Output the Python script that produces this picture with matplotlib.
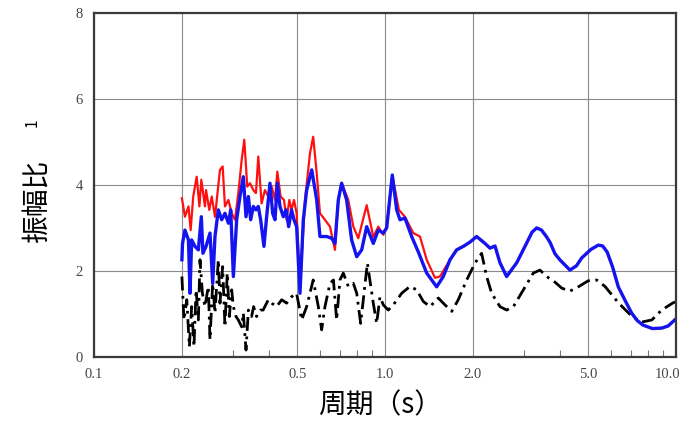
import matplotlib.pyplot as plt
from matplotlib.ticker import FixedLocator, NullFormatter
from matplotlib.transforms import ScaledTranslation

# period (s) / amplitude ratio
blue_T = [0.2005, 0.2015, 0.2054, 0.2112, 0.2138, 0.2166, 0.2224, 0.2284, 0.2338, 0.2368,
          0.2427, 0.2504, 0.2558, 0.2605, 0.2675, 0.2747, 0.2819, 0.2897, 0.2950, 0.3013,
          0.3093, 0.3175, 0.3260, 0.3330, 0.3393, 0.3455, 0.3528, 0.3602, 0.3670, 0.3738,
          0.3838, 0.3920, 0.4025, 0.4112, 0.4188, 0.4266, 0.4356, 0.4473, 0.4568, 0.4667,
          0.4775, 0.4868, 0.4970, 0.5104, 0.5240, 0.5381, 0.5601, 0.5826, 0.5978, 0.6305,
          0.6556, 0.6731, 0.6911, 0.7097, 0.7383, 0.7681, 0.7996, 0.8316, 0.8653, 0.9116,
          0.9484, 0.9866, 1.0135, 1.0596, 1.097, 1.126, 1.171, 1.235, 1.302, 1.391,
          1.505, 1.586, 1.673, 1.763, 1.858, 1.959, 2.065, 2.206, 2.295, 2.388,
          2.484, 2.618, 2.836, 2.95, 3.069, 3.2, 3.322, 3.45, 3.594, 3.7,
          3.838, 4.0, 4.322, 4.55, 4.740, 5.1, 5.408, 5.6, 5.80, 6.05,
          6.335, 6.7, 7.04, 7.35, 7.70, 8.3, 8.93, 9.4, 9.90]
blue_amp = [2.26, 2.64, 2.95, 2.72, 1.48, 2.72, 2.57, 2.49, 3.26, 2.41,
            2.57, 2.88, 1.71, 2.80, 3.42, 3.19, 3.34, 3.11, 3.42, 1.87,
            3.19, 3.73, 4.19, 3.26, 3.73, 3.19, 3.50, 3.42, 3.50, 3.19,
            2.57, 3.26, 4.04, 3.34, 3.19, 4.04, 3.50, 3.26, 3.42, 3.03,
            3.42, 3.19, 3.03, 1.48, 3.19, 3.88, 4.35, 3.65, 2.80, 2.80,
            2.76, 2.64, 3.65, 4.04, 3.65, 2.72, 2.33, 2.49, 3.03, 2.64,
            2.95, 2.88, 3.00, 4.23, 3.42, 3.19, 3.23, 2.80, 2.44, 1.95,
            1.63, 1.87, 2.26, 2.49, 2.57, 2.67, 2.80, 2.64, 2.53, 2.58,
            2.19, 1.87, 2.19, 2.42, 2.65, 2.90, 3.00, 2.95, 2.79, 2.65,
            2.40, 2.25, 2.02, 2.12, 2.30, 2.50, 2.60, 2.58, 2.44, 2.10,
            1.63, 1.30, 1.02, 0.85, 0.74, 0.66, 0.67, 0.72, 0.86]

# red: own values up to ~1.55 s, then hidden under the blue line
red_T_short = [0.2005, 0.2054, 0.2112, 0.2149, 0.2193, 0.2254, 0.2303, 0.2338, 0.2406, 0.2427,
               0.2490, 0.2539, 0.2605, 0.2710, 0.2768, 0.2819, 0.2897, 0.2973, 0.3052, 0.3133,
               0.3218, 0.3285, 0.3363, 0.3436, 0.3528, 0.3602, 0.3670, 0.3767, 0.3868, 0.3973,
               0.4081, 0.4188, 0.4266, 0.4379, 0.4497, 0.4592, 0.4691, 0.4775, 0.4868, 0.4970,
               0.5104, 0.5311, 0.5525, 0.5666, 0.5826, 0.5978, 0.6219, 0.6471, 0.6731, 0.6911,
               0.7097, 0.7480, 0.7785, 0.8097, 0.8653, 0.9116, 0.9484, 0.9866, 1.0135, 1.0596,
               1.116, 1.171, 1.251, 1.319, 1.391, 1.485, 1.545]
red_amp_short = [3.69, 3.26, 3.50, 2.95, 3.73, 4.19, 3.50, 4.12, 3.50, 3.88,
                 3.42, 3.73, 3.26, 4.35, 4.43, 3.50, 3.65, 3.34, 3.19, 3.81,
                 4.58, 5.05, 3.96, 4.04, 3.88, 3.81, 4.66, 3.57, 3.88, 3.73,
                 3.96, 3.65, 4.31, 3.73, 3.65, 3.19, 3.65, 3.42, 3.65, 3.34,
                 1.60, 3.65, 4.74, 5.12, 4.27, 3.34, 3.19, 3.03, 2.49, 3.65,
                 4.04, 3.65, 3.03, 2.76, 3.53, 2.79, 3.03, 2.84, 3.03, 4.23,
                 3.42, 3.26, 2.88, 2.80, 2.26, 1.84, 1.87]

black_T = [0.2005, 0.2038, 0.2084, 0.2127, 0.2166, 0.2206, 0.2243, 0.2284, 0.2314, 0.2358,
           0.2406, 0.2471, 0.2504, 0.2558, 0.2605, 0.2675, 0.2710, 0.2768, 0.2819, 0.2870,
           0.2918, 0.2973, 0.3013, 0.3076, 0.3133, 0.3218, 0.3260, 0.3330, 0.3393, 0.3480,
           0.3537, 0.3619, 0.3738, 0.3813, 0.3973, 0.4081, 0.4241, 0.4418, 0.4592, 0.4775,
           0.4970, 0.5172, 0.5381, 0.5666, 0.5901, 0.6059, 0.6219, 0.6471, 0.6650, 0.6821,
           0.7003, 0.7190, 0.7480, 0.7785, 0.7996, 0.8248, 0.870, 0.9116, 0.9364, 0.9612,
           0.9866, 1.0265, 1.068, 1.141, 1.219, 1.285, 1.354, 1.428, 1.525, 1.608,
           1.696, 1.786, 1.909, 2.038, 2.148, 2.235, 2.326, 2.484, 2.618, 2.762,
           2.989, 3.233, 3.409, 3.594, 3.838, 4.05, 4.322, 4.615, 4.992, 5.335,
           5.702, 6.335, 7.04, 7.61, 8.26, 8.93, 9.78, 10.0]
black_amp = [1.87, 0.86, 1.33, 0.24, 1.17, 0.24, 1.56, 0.86, 2.26, 1.48,
             1.17, 1.64, 0.40, 1.71, 1.02, 2.26, 1.25, 2.10, 0.70, 1.95,
             0.94, 1.56, 1.17, 0.94, 0.86, 0.70, 1.02, 0.16, 1.09, 0.94,
             1.17, 0.94, 1.09, 1.09, 1.33, 1.25, 1.17, 1.33, 1.25, 1.40,
             1.48, 0.86, 1.17, 1.79, 1.17, 0.63, 1.17, 1.71, 1.79, 0.86,
             1.79, 1.95, 1.64, 1.71, 1.48, 0.78, 2.18, 1.25, 0.78, 1.40,
             1.21, 1.09, 1.21, 1.48, 1.64, 1.56, 1.29, 1.17, 1.37, 1.21,
             1.06, 1.33, 1.79, 2.18, 2.41, 1.87, 1.48, 1.17, 1.09, 1.17,
             1.56, 1.95, 2.02, 1.87, 1.74, 1.60, 1.53, 1.63, 1.77, 1.79,
             1.64, 1.26, 0.95, 0.81, 0.86, 1.09, 1.26, 1.28]

x_ticks = [0.1, 0.2, 0.5, 1.0, 2.0, 5.0, 10.0]
x_ticklabels = ['0.1', '0.2', '0.5', '1.0', '2.0', '5.0', '10.0']
y_ticks = [0, 2, 4, 6, 8]

plt.rcParams['font.family'] = ['Noto Sans CJK SC', 'DejaVu Sans']

# red lies under blue beyond ~1.6 s
cut = blue_T.index(1.673)
red_T = red_T_short + blue_T[cut:]
red_amp = red_amp_short + blue_amp[cut:]

fig = plt.figure(figsize=(6.86, 4.29), dpi=100)
ax = fig.add_axes([0.137, 0.168, 0.8484, 0.8019])

ax.plot(black_T, black_amp, color='black', linewidth=2.0,
        linestyle=(0, (5, 2, 1, 2)))
ax.plot(red_T, red_amp, color='#ff1010', linewidth=1.6)
ax.plot(blue_T, blue_amp, color='#1414f0', linewidth=2.4)

ax.set_xscale('log')
ax.set_xlim(0.1, 10.0)
ax.set_ylim(0, 8)
ax.xaxis.set_major_locator(FixedLocator(x_ticks))
ax.set_xticklabels(x_ticklabels)
ax.xaxis.set_minor_locator(FixedLocator([0.3, 0.4, 0.6, 0.7, 0.8, 0.9,
                                         3, 4, 6, 7, 8, 9]))
ax.xaxis.set_minor_formatter(NullFormatter())
ax.set_yticks(y_ticks)

ax.grid(True, which='major', color='#8a8a8a', linewidth=0.8)
for s in ax.spines.values():
    s.set_color('#3a3a3a')
    s.set_linewidth(1.6)

ax.tick_params(which='major', length=0, pad=8, labelsize=10.5,
               labelcolor='#444444', labelfontfamily='Liberation Serif')
ax.tick_params(axis='x', which='minor', direction='in', length=5,
               width=0.8, color='#777777')

# nudge the last x label so it stays inside the figure
last = ax.get_xticklabels()[-1]
last.set_transform(last.get_transform() + ScaledTranslation(-6 / 72, 0, fig.dpi_scale_trans))

fig.text(0.054, 0.534, '振幅比', rotation=90, fontsize=20,
         ha='center', va='center')
fig.text(0.047, 0.713, '1', rotation=90, fontsize=11,
         ha='center', va='center')
fig.text(0.554, 0.056, '周期（s）', fontsize=20, ha='center', va='center')

plt.savefig('out.png', dpi=100)
